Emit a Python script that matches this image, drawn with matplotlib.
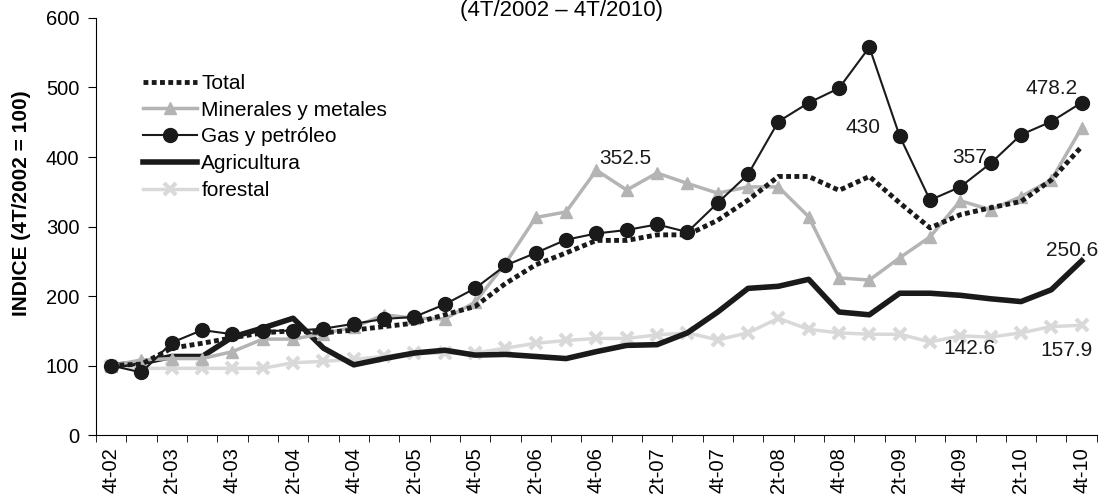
import numpy as np
import matplotlib.pyplot as plt

plt.rcParams['font.family'] = ['Liberation Sans', 'DejaVu Sans']

quarters = ["4t-02",
            "1t-03", "2t-03", "3t-03", "4t-03",
            "1t-04", "2t-04", "3t-04", "4t-04",
            "1t-05", "2t-05", "3t-05", "4t-05",
            "1t-06", "2t-06", "3t-06", "4t-06",
            "1t-07", "2t-07", "3t-07", "4t-07",
            "1t-08", "2t-08", "3t-08", "4t-08",
            "1t-09", "2t-09", "3t-09", "4t-09",
            "1t-10", "2t-10", "3t-10", "4t-10"]

total = [100, 102, 125, 132, 140, 147, 150, 147, 151,
         156, 161, 173, 185, 218, 245, 262, 280,
         280, 288, 288, 309, 338, 372, 372,
         352, 372, 334, 298, 317, 327, 336, 367, 415]
minerales = [100, 108, 110, 110, 120, 138, 138, 146, 155,
             173, 168, 167, 191, 247, 313, 321, 381,
             352.5, 377, 362, 348, 357, 357, 314,
             226, 223, 255, 285, 337, 324, 343, 367, 442]
gas = [100, 90, 133, 151, 145, 150, 150, 153, 160,
       167, 170, 188, 211, 244, 262, 281, 290,
       295, 303, 292, 334, 375, 451, 478,
       499, 558, 430, 338, 357, 391, 432, 451, 478.2]
agricultura = [100, 104, 113, 113, 141, 154, 168, 125, 101,
               110, 118, 122, 115, 116, 113, 110, 120,
               129, 130, 147, 177, 211, 214, 224,
               177, 173, 204, 204, 201, 196, 192, 209, 250.6]
forestal = [100, 96, 96, 96, 96, 96, 104, 106, 109,
            113, 118, 118, 118, 125, 132, 136, 139,
            139, 144, 147, 137, 147, 168, 152,
            147, 145, 145, 134, 142.6, 141, 147, 156, 157.9]

# (label, category index, y position)
notes = [("352.5", 16.95, 398), ("430", 24.8, 443), ("357", 28.3, 399),
         ("478.2", 31.0, 498), ("250.6", 31.7, 266),
         ("142.6", 28.3, 125), ("157.9", 31.5, 122)]

x = np.arange(len(quarters))

fig = plt.figure(figsize=(11.01, 4.97), dpi=100)
ax = fig.add_axes([0.0872, 0.1247, 0.909, 0.8391])

ax.plot(x, forestal, color="#d9d9d9", lw=2.5, marker="x", ms=8, mew=3,
        label="forestal", zorder=2)
ax.plot(x, agricultura, color="#1a1a1a", lw=4, label="Agricultura", zorder=3)
ax.plot(x, minerales, color="#b4b4b4", lw=2.5, marker="^", ms=9,
        label="Minerales y metales", zorder=4)
ax.plot(x, total, color="#1a1a1a", lw=3.5, ls=(0, (1, 0.7)),
        label="Total", zorder=5)
ax.plot(x, gas, color="#1a1a1a", lw=1.5, marker="o", ms=10,
        label="Gas y petróleo", zorder=6)

for txt, xi, yi in notes:
    ax.text(xi, yi, txt, ha="center", va="center", fontsize=15, color="#1a1a1a")

ax.set_xlim(-0.5, len(quarters) - 0.5)
ax.set_ylim(0, 600)
ax.set_yticks(range(0, 601, 100))
ax.tick_params(axis="y", labelsize=14.5, length=6, direction="out", pad=6)

ax.set_xticks(x[::2])
ax.set_xticklabels(quarters[::2], rotation=90, fontsize=14.5)
ax.set_xticks(np.arange(-0.5, len(quarters), 1), minor=True)
ax.tick_params(axis="x", which="major", length=0, pad=9)
ax.tick_params(axis="x", which="minor", length=5, direction="out")

for s in ["top", "right"]:
    ax.spines[s].set_visible(False)

fig.text(22 / 1101, 1 - 203 / 497, "INDICE (4T/2002 = 100)", rotation=90,
         ha="center", va="center", fontsize=15, fontweight="bold")

handles, labels = ax.get_legend_handles_labels()
order = [3, 2, 4, 1, 0]
ax.legend([handles[i] for i in order], [labels[i] for i in order],
          loc="upper left", bbox_to_anchor=(143 / 1101, 1 - 74 / 497),
          bbox_transform=fig.transFigure, frameon=False, fontsize=15,
          handlelength=2.6, handletextpad=0.2, labelspacing=0.37,
          borderpad=0, borderaxespad=0)

fig.text(0.51, 1.0, "(4T/2002 – 4T/2010)", ha="center", va="top", fontsize=16)

plt.savefig("out.png", dpi=100)
plt.close()
